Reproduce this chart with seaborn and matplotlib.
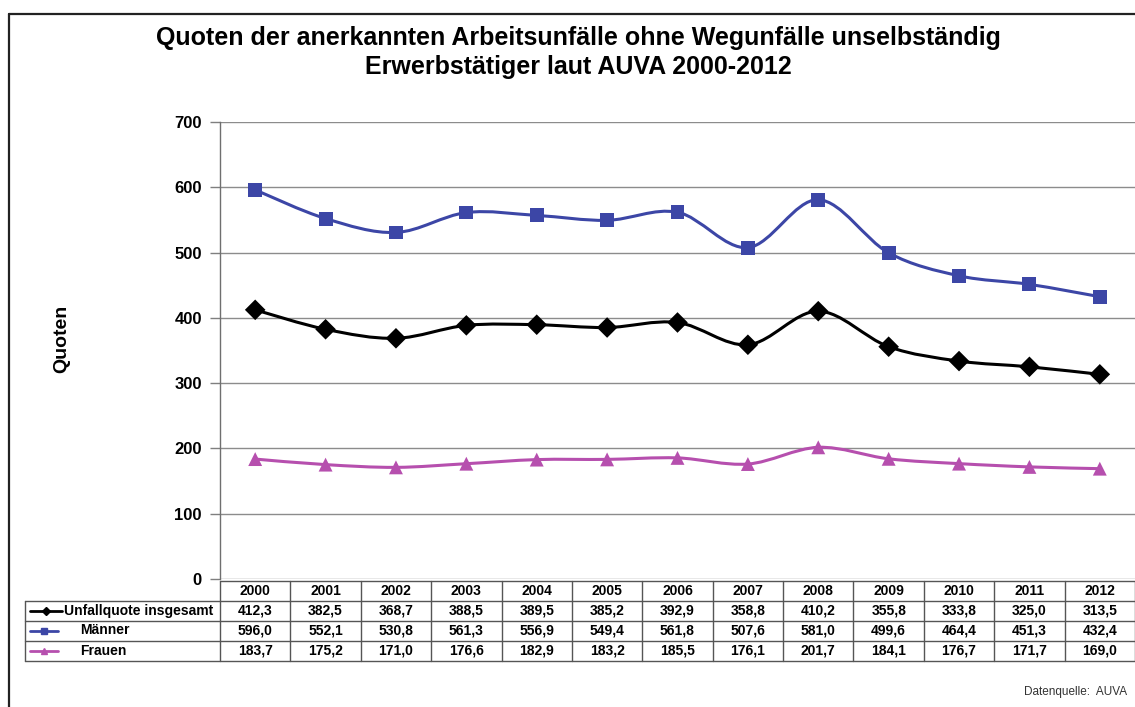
import numpy as np
import pandas as pd
import matplotlib
matplotlib.use("Agg")
import matplotlib.pyplot as plt
import seaborn as sns
from matplotlib.path import Path
from matplotlib.patches import PathPatch
from matplotlib.lines import Line2D
import matplotlib.transforms as mtransforms

years = [2000, 2001, 2002, 2003, 2004, 2005, 2006, 2007, 2008, 2009, 2010, 2011, 2012]
gesamt = [412.3, 382.5, 368.7, 388.5, 389.5, 385.2, 392.9, 358.8, 410.2, 355.8, 333.8, 325.0, 313.5]
maenner = [596.0, 552.1, 530.8, 561.3, 556.9, 549.4, 561.8, 507.6, 581.0, 499.6, 464.4, 451.3, 432.4]
frauen = [183.7, 175.2, 171.0, 176.6, 182.9, 183.2, 185.5, 176.1, 201.7, 184.1, 176.7, 171.7, 169.0]
series_names = ["Unfallquote insgesamt", "Männer", "Frauen"]
yticks = [0, 100, 200, 300, 400, 500, 600, 700]
title_lines = ["Quoten der anerkannten Arbeitsunfälle ohne Wegunfälle unselbständig",
               "Erwerbstätiger laut AUVA 2000-2012"]

sns.set_theme(style="white")
plt.rcParams['font.family'] = ['Liberation Sans', 'DejaVu Sans']
plt.rcParams['text.color'] = 'black'
plt.rcParams['ytick.color'] = 'black'

colors = {"Unfallquote insgesamt": "#000000", "Männer": "#3C46A6", "Frauen": "#B64FAE"}
markers = {"Unfallquote insgesamt": "D", "Männer": "s", "Frauen": "^"}
msizes = {"Unfallquote insgesamt": 110, "Männer": 100, "Frauen": 100}

W, H = 1135, 707
fig = plt.figure(figsize=(W / 100, H / 100), dpi=100)
ax = fig.add_axes([220 / W, 1 - 579 / H, (W - 220) / W, (579 - 122) / H])

values = {"Unfallquote insgesamt": gesamt, "Männer": maenner, "Frauen": frauen}
rows = []
for name in series_names:
    for i, (yr, v) in enumerate(zip(years, values[name])):
        rows.append({"idx": i, "year": yr, "value": v, "series": name})
df = pd.DataFrame(rows)


def smooth_path(xs, ys):
    pts = np.column_stack([xs, ys]).astype(float)
    n = len(pts)
    verts = [pts[0]]
    codes = [Path.MOVETO]
    for i in range(n - 1):
        p0 = pts[i - 1] if i > 0 else pts[i]
        p1 = pts[i]
        p2 = pts[i + 1]
        p3 = pts[i + 2] if i + 2 < n else pts[i + 1]
        c1 = p1 + (p2 - p0) / 6.0
        c2 = p2 - (p3 - p1) / 6.0
        verts += [c1, c2, p2]
        codes += [Path.CURVE4] * 3
    return Path(verts, codes)


# grid
for t in yticks:
    ax.axhline(t, color="#8c8c8c", lw=1.0, zorder=0)

for name in series_names:
    sub = df[df.series == name]
    patch = PathPatch(smooth_path(sub.idx.values, sub.value.values), facecolor="none",
                      edgecolor=colors[name], lw=2.2, zorder=2)
    ax.add_patch(patch)

sns.scatterplot(data=df, x="idx", y="value", hue="series", style="series",
                palette=colors, markers=markers, size="series", sizes=msizes,
                edgecolor="none", legend=False, ax=ax, zorder=3)

ax.set_xlim(-0.5, len(years) - 0.5)
ax.set_ylim(0, 700)
ax.set_yticks(yticks)
ax.set_yticklabels([str(t) for t in yticks], fontsize=12, fontweight="bold", color="black")
ax.set_xticks([])
ax.set_xlabel("")
ax.set_ylabel("")
ax.tick_params(axis="y", which="both", left=True, length=7, width=1, color="#7f7f7f",
               labelcolor="black", pad=6)
for s in ["top", "right", "bottom"]:
    ax.spines[s].set_visible(False)
ax.spines["left"].set_color("#6f6f6f")
ax.spines["left"].set_linewidth(1.0)

fig.text(62 / W, 1 - 339 / H, "Quoten", rotation=90, fontsize=14, fontweight="bold",
         ha="center", va="center", color="black")
fig.text(578 / W, 1 - 38 / H, title_lines[0], fontsize=18, fontweight="bold", ha="center",
         va="center", color="black")
fig.text(578 / W, 1 - 67 / H, title_lines[1], fontsize=18, fontweight="bold", ha="center",
         va="center", color="black")
fig.text(1127 / W, 1 - 692 / H, "Datenquelle:  AUVA", fontsize=8.5, ha="right", va="center",
         color="#333333")

# frame
fig.add_artist(Line2D([9 / W, 9 / W], [0, 1 - 14 / H], color="#222222", lw=1.6))
fig.add_artist(Line2D([9 / W, 1], [1 - 14 / H, 1 - 14 / H], color="#222222", lw=1.6))

# data table
trans = mtransforms.blended_transform_factory(ax.transData, fig.transFigure)
def fy(p):
    return 1 - p / H

row_edges = [581, 600.5, 620.5, 640.5, 661]
lab_left = -0.5 - (220 - 25) / ((W - 220) / len(years))
lc = "#555555"
for k, yp in enumerate(row_edges):
    x0 = -0.5 if k == 0 else lab_left
    ax.add_line(Line2D([x0, len(years) - 0.5], [fy(yp), fy(yp)], transform=trans,
                       color=lc, lw=1.0, clip_on=False))
for i in range(len(years) + 1):
    ax.add_line(Line2D([i - 0.5, i - 0.5], [fy(row_edges[0]), fy(row_edges[-1])],
                       transform=trans, color=lc, lw=1.0, clip_on=False))
ax.add_line(Line2D([lab_left, lab_left], [fy(row_edges[1]), fy(row_edges[-1])],
                   transform=trans, color=lc, lw=1.0, clip_on=False))

for i, yr in enumerate(years):
    ax.text(i, fy((row_edges[0] + row_edges[1]) / 2), str(yr), transform=trans,
            ha="center", va="center", fontsize=10, fontweight="bold")
table_vals = [gesamt, maenner, frauen]
for r, vals in enumerate(table_vals):
    yc = fy((row_edges[r + 1] + row_edges[r + 2]) / 2)
    for i, v in enumerate(vals):
        ax.text(i, yc, f"{v:.1f}".replace(".", ","), transform=trans, ha="center",
                va="center", fontsize=10, fontweight="bold")

px = (W - 220) / len(years)
def dx(p):
    return -0.5 + (p - 220) / px

keys = [(30, 62, 46, "D", 4.5), (30, 58, 44, "s", 4.5), (30, 58, 44, "^", 5)]
text_x = [64, 80, 80]
for r, name in enumerate(series_names):
    yc = fy((row_edges[r + 1] + row_edges[r + 2]) / 2)
    x0, x1, xm, mk, ms = keys[r]
    ax.add_line(Line2D([dx(x0), dx(x1)], [yc, yc], transform=trans, color=colors[name],
                       lw=2.0, clip_on=False))
    ax.add_line(Line2D([dx(xm)], [yc], transform=trans, color=colors[name], marker=mk,
                       markersize=ms, lw=0, clip_on=False))
    ax.text(dx(text_x[r]), yc, name, transform=trans, ha="left", va="center",
            fontsize=10, fontweight="bold")

fig.savefig("out.png", dpi=100)
